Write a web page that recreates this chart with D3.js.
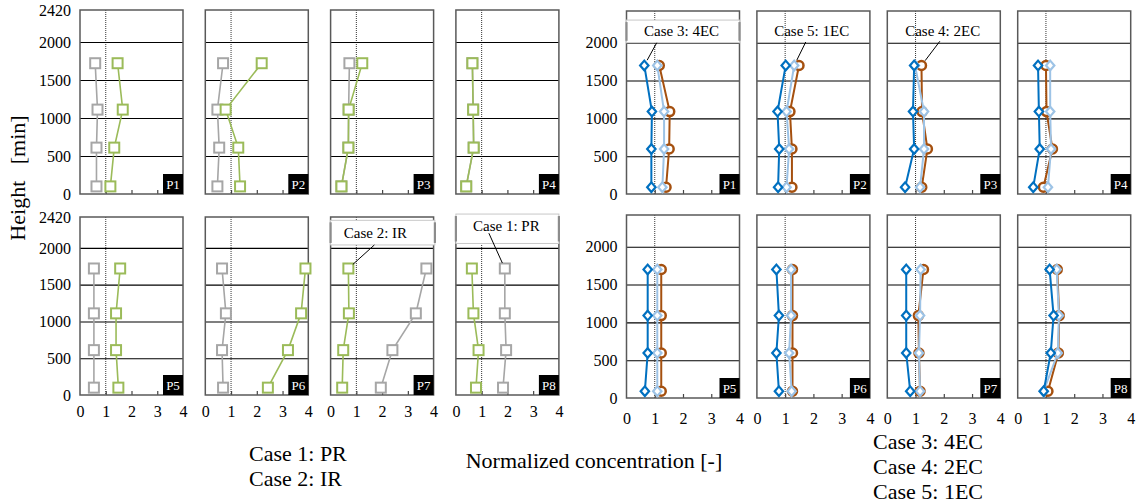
<!DOCTYPE html>
<html>
<head>
<meta charset="utf-8">
<script src="https://cdn.jsdelivr.net/npm/d3@7"></script>
<style>
  body { margin: 0; background: #fff; }
  text { font-family: "Liberation Serif", "Times New Roman", serif; fill: #000; }
</style>
</head>
<body>
<svg width="1137" height="504"></svg>
<script>
// ---- data (values listed bottom -> top, per panel P1..P8) ----
const panelNames = ['P1', 'P2', 'P3', 'P4', 'P5', 'P6', 'P7', 'P8']
const heightsR = [100, 610, 1110, 1720]   // left group measuring heights [min]
const heightsEC = [90, 595, 1090, 1700]   // right group measuring heights [min]
const yTicksLeft = [0, 500, 1000, 1500, 2000, 2420]
const yTicksRight = [0, 500, 1000, 1500, 2000]
const xTicks = [0, 1, 2, 3, 4]

const case1PR = [
  [0.64, 0.64, 0.68, 0.59], [0.47, 0.54, 0.47, 0.69], [0.42, 0.69, 0.70, 0.73], [0.40, 0.69, 0.67, 0.64],
  [0.54, 0.54, 0.54, 0.54], [0.69, 0.65, 0.80, 0.65], [1.95, 2.40, 3.31, 3.72], [1.83, 1.95, 1.90, 1.90]
]
const case2IR = [
  [1.18, 1.33, 1.66, 1.46], [1.35, 1.28, 0.79, 2.19], [0.42, 0.69, 0.70, 1.23], [0.40, 0.69, 0.67, 0.64],
  [1.49, 1.40, 1.40, 1.56], [2.43, 3.21, 3.72, 3.89], [0.45, 0.49, 0.71, 0.69], [0.78, 0.88, 0.68, 0.62]
]
const case3EC4 = [
  [0.88, 0.88, 0.90, 0.63], [0.75, 0.79, 0.73, 1.02], [0.63, 0.95, 0.91, 0.95], [0.55, 0.78, 0.75, 0.72],
  [0.65, 0.75, 0.75, 0.75], [0.78, 0.69, 0.78, 0.69], [0.81, 0.67, 0.67, 0.67], [0.92, 1.17, 1.27, 1.13]
]
const case4EC2 = [
  [1.40, 1.51, 1.53, 1.16], [1.24, 1.24, 1.17, 1.49], [1.22, 1.42, 1.23, 1.21], [0.91, 1.23, 1.02, 1.00],
  [1.23, 1.23, 1.23, 1.23], [1.26, 1.26, 1.26, 1.26], [1.16, 1.12, 1.10, 1.28], [1.07, 1.44, 1.47, 1.40]
]
const case5EC1 = [
  [1.27, 1.33, 1.33, 1.09], [1.05, 1.14, 1.05, 1.32], [1.16, 1.30, 1.30, 0.98], [1.07, 1.18, 1.15, 1.15],
  [1.09, 1.09, 1.09, 1.09], [1.23, 1.14, 1.21, 1.21], [1.16, 1.12, 1.16, 1.18], [0.92, 1.42, 1.46, 1.38]
]

// ---- layout ----
const svg = d3.select('svg')
const FONT = '"Liberation Serif", "Times New Roman", serif'
const groups = [
  {
    key: 'R', x0: 80, step: 125.3, w: 103, rows: [[10, 194], [217, 395]], labelPad: 11,
    yTicks: yTicksLeft, heights: heightsR,
    series: [
      { name: 'Case 1: PR', values: case1PR, color: '#a6a6a6', shape: 'square' },
      { name: 'Case 2: IR', values: case2IR, color: '#9bbb59', shape: 'square' }
    ],
    callouts: [
      { text: 'Case 2: IR', panel: 6, series: 1, point: 3, cx: 1.74, cy: 2200, box: [0, 4.05, 2375, 2040], from: [1.7, 2040] },
      { text: 'Case 1: PR', panel: 7, series: 0, point: 3, cx: 1.96, cy: 2300, box: [0, 4, 2460, 2060], from: [1.28, 2200] }
    ],
    legend: ['Case 1: PR', 'Case 2: IR'], legendX: 249, legendY: 453
  },
  {
    key: 'EC', x0: 626.5, step: 130.4, w: 113, rows: [[11, 194], [215, 398]], labelPad: 15,
    yTicks: yTicksRight, heights: heightsEC,
    series: [
      { name: 'Case 4: 2EC', values: case4EC2, color: '#a5500f', shape: 'circle' },
      { name: 'Case 5: 1EC', values: case5EC1, color: '#9dc3e6', shape: 'diamond' },
      { name: 'Case 3: 4EC', values: case3EC4, color: '#0070c0', shape: 'diamond' }
    ],
    callouts: [
      { text: 'Case 3: 4EC', panel: 0, series: 2, point: 3, cx: 1.95, cy: 2155, box: [0, 4, 2300, 2000], from: [1.07, 2000] },
      { text: 'Case 5: 1EC', panel: 1, series: 1, point: 3, cx: 1.94, cy: 2160, box: null, from: [1.73, 2010] },
      { text: 'Case 4: 2EC', panel: 2, series: 0, point: 3, cx: 1.96, cy: 2160, box: null, from: [1.86, 2020] }
    ],
    legend: ['Case 3: 4EC', 'Case 4: 2EC', 'Case 5: 1EC'], legendX: 873, legendY: 441
  }
]

const lineGen = d3.line()

groups.forEach(grp => {
  panelNames.forEach((pn, pi) => {
    const col = pi % 4
    const row = Math.floor(pi / 4)
    const [top, bottom] = grp.rows[row]
    const left = grp.x0 + col * grp.step
    const x = d3.scaleLinear().domain([0, 4]).range([0, grp.w])
    const y = d3.scaleLinear().domain([0, 2420]).range([bottom - top, 0])
    const g = svg.append('g').attr('transform', `translate(${left},${top})`)

    // gridlines
    g.append('g')
      .call(d3.axisLeft(y).tickValues([500, 1000, 1500, 2000]).tickSize(-grp.w).tickFormat(''))
      .call(a => a.select('.domain').remove())
      .selectAll('.tick line').attr('stroke', '#000').attr('stroke-width', 1.1)

    // reference line at 1
    g.append('line')
      .attr('x1', x(1)).attr('x2', x(1))
      .attr('y1', 0).attr('y2', y(0))
      .attr('stroke', '#000').attr('stroke-width', 0.8)
      .attr('stroke-dasharray', '1,1')

    // inner bottom ticks
    g.append('g')
      .attr('transform', `translate(0,${y(0)})`)
      .call(d3.axisBottom(x).tickValues([1, 2, 3]).tickSize(-4).tickFormat(''))
      .call(a => a.select('.domain').remove())
      .selectAll('.tick line').attr('stroke', '#444').attr('stroke-width', 1.2)

    // frame
    g.append('rect')
      .attr('width', grp.w).attr('height', y(0))
      .attr('fill', 'none').attr('stroke', '#595959').attr('stroke-width', 1.5)

    // y tick labels on first column
    if (col === 0) {
      g.append('g')
        .attr('font-family', FONT).attr('font-size', 16)
        .call(d3.axisLeft(y).tickValues(grp.yTicks).tickSize(0).tickPadding(9).tickFormat(d3.format('d')))
        .call(a => a.select('.domain').remove())
        .selectAll('text').attr('fill', '#000').style('font-family', FONT).style('font-size', '16px')
    }
    // x tick labels on bottom row
    if (row === 1) {
      g.append('g')
        .attr('transform', `translate(0,${y(0)})`)
        .attr('font-family', FONT).attr('font-size', 16)
        .call(d3.axisBottom(x).tickValues(xTicks).tickSize(0).tickPadding(grp.labelPad).tickFormat(d3.format('d')))
        .call(a => a.select('.domain').remove())
        .selectAll('text').attr('fill', '#000').style('font-family', FONT).style('font-size', '16px')
    }

    // series
    grp.series.forEach(s => {
      const pts = s.values[pi].map((v, k) => [x(v), y(grp.heights[k])])
      g.append('path')
        .attr('d', lineGen(pts))
        .attr('fill', 'none')
        .attr('stroke', s.color)
        .attr('stroke-width', grp.key === 'R' ? 1.6 : 2)
      const m = g.selectAll(null).data(pts).enter()
      if (s.shape === 'square') {
        m.append('rect')
          .attr('x', d => d[0] - 5).attr('y', d => d[1] - 5)
          .attr('width', 10).attr('height', 10)
          .attr('fill', '#fff').attr('stroke', s.color).attr('stroke-width', 2)
      } else if (s.shape === 'circle') {
        m.append('circle')
          .attr('cx', d => d[0]).attr('cy', d => d[1]).attr('r', 4.5)
          .attr('fill', '#fff').attr('stroke', s.color).attr('stroke-width', 2.5)
      } else {
        m.append('path')
          .attr('d', d => `M${d[0]},${d[1] - 4.8}L${d[0] + 4.2},${d[1]}L${d[0]},${d[1] + 4.8}L${d[0] - 4.2},${d[1]}Z`)
          .attr('fill', '#fff').attr('stroke', s.color).attr('stroke-width', 2.2)
      }
    })

    // callouts
    grp.callouts.filter(c => c.panel === pi).forEach(c => {
      if (c.box) {
        const [bx0, bx1, by0, by1] = c.box
        g.append('rect')
          .attr('x', x(bx0)).attr('y', y(by0))
          .attr('width', x(bx1) - x(bx0)).attr('height', y(by1) - y(by0))
          .attr('fill', '#fff').attr('stroke', '#c8c8c8').attr('stroke-width', 1)
        ;[bx0, bx1].forEach(bx => g.append('line')
          .attr('x1', x(bx)).attr('x2', x(bx))
          .attr('y1', y(by0) + 2).attr('y2', y(by1) - 2)
          .attr('stroke', '#8c8c8c').attr('stroke-width', 2.2))
      }
      const s = grp.series[c.series]
      const tx = x(s.values[pi][c.point])
      const ty = y(grp.heights[c.point])
      const fx = x(c.from[0])
      const fy = y(c.from[1])
      const ang = Math.atan2(fy - ty, fx - tx)
      g.append('line')
        .attr('x1', fx).attr('y1', fy)
        .attr('x2', tx + Math.cos(ang) * 6).attr('y2', ty + Math.sin(ang) * 6)
        .attr('stroke', '#000').attr('stroke-width', 1)
      g.append('text')
        .attr('x', x(c.cx)).attr('y', y(c.cy))
        .attr('text-anchor', 'middle').attr('dy', '0.35em')
        .style('font-size', '15px')
        .text(c.text)
    })

    // panel tag
    g.append('rect')
      .attr('x', grp.w - 20).attr('y', y(0) - 20)
      .attr('width', 20).attr('height', 20)
      .attr('fill', '#000')
    g.append('text')
      .attr('x', grp.w - 10).attr('y', y(0) - 10)
      .attr('text-anchor', 'middle').attr('dy', '0.35em')
      .style('font-size', '13px').style('fill', '#fff')
      .text(pn)
  })

  // case list
  svg.append('g').selectAll('text')
    .data(grp.legend).enter()
    .append('text')
    .attr('x', grp.legendX)
    .attr('y', (d, i) => grp.legendY + i * 25)
    .attr('dy', '0.35em')
    .style('font-size', '22px')
    .text(d => d)
})

// axis titles
svg.append('text')
  .attr('transform', 'translate(25,178) rotate(-90)')
  .attr('text-anchor', 'middle')
  .style('font-size', '22px')
  .text('Height\u00a0\u00a0\u00a0[min]')

svg.append('text')
  .attr('x', 594).attr('y', 460)
  .attr('text-anchor', 'middle').attr('dy', '0.35em')
  .style('font-size', '22px')
  .text('Normalized concentration [-]')
</script>
</body>
</html>
